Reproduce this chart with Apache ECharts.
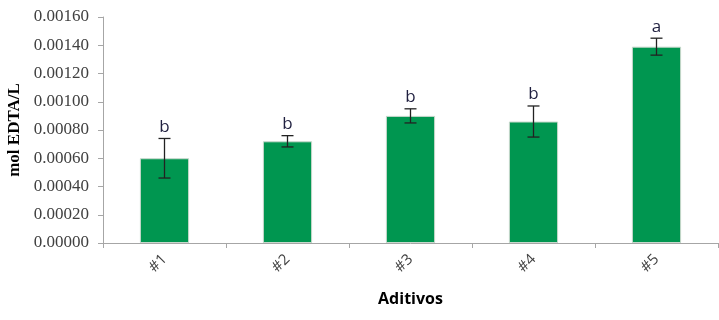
<!DOCTYPE html>
<html><head><meta charset="utf-8">
<script src="https://cdn.jsdelivr.net/npm/echarts@6/dist/echarts.min.js"></script>
<style>html,body{margin:0;padding:0;background:#fff}#c{width:719px;height:320px}</style>
</head><body><div id="c"></div>
<script>
const categories = ['#1', '#2', '#3', '#4', '#5'];
const means = [0.00060, 0.00072, 0.00090, 0.00086, 0.00139];
const errors = [0.00014, 0.00004, 0.00005, 0.00011, 0.00006];
const letters = ['b', 'b', 'b', 'b', 'a'];

const chart = echarts.init(document.getElementById('c'));
const errData = categories.map((c, i) => [i, means[i] - errors[i], means[i] + errors[i], letters[i]]);
chart.setOption({
  animation: false,
  grid: {left: 103, right: 1, top: 17, bottom: 77, outerBoundsMode: 'none', containLabel: false},
  xAxis: {
    type: 'category', data: categories,
    name: 'Aditivos', nameLocation: 'middle', nameGap: 48,
    nameTextStyle: {fontFamily: 'Open Sans', fontWeight: 'bold', fontSize: 16, color: '#000'},
    axisLine: {lineStyle: {color: '#a6a6a6'}},
    axisTick: {show: true, length: 5, lineStyle: {color: '#a6a6a6'}},
    axisLabel: {rotate: 45, fontFamily: 'Open Sans', fontSize: 15, color: '#404040', margin: 14}
  },
  yAxis: {
    type: 'value', min: 0, max: 0.0016, interval: 0.0002,
    name: 'mol EDTA/L', nameLocation: 'middle', nameGap: 80,
    nameTextStyle: {fontFamily: 'Liberation Serif', fontWeight: 'bold', fontSize: 17, color: '#000'},
    axisLine: {show: true, lineStyle: {color: '#a6a6a6'}},
    axisTick: {show: true, length: 5, lineStyle: {color: '#a6a6a6'}},
    splitLine: {show: false},
    axisLabel: {formatter: v => v.toFixed(5), fontFamily: 'Liberation Serif', fontSize: 17, color: '#404040', margin: 14}
  },
  series: [
    {type: 'bar', data: means, barWidth: '40%',
     itemStyle: {color: '#009650', borderColor: '#c8d8cc', borderWidth: 1}},
    {type: 'custom', data: errData, z: 10,
     renderItem: (params, api) => {
       const x = api.value(0);
       const lo = api.coord([x, api.value(1)]);
       const hi = api.coord([x, api.value(2)]);
       const w = 6;
       const st = {stroke: '#222', lineWidth: 1.3};
       return {type: 'group', children: [
         {type: 'line', shape: {x1: lo[0], y1: lo[1], x2: hi[0], y2: hi[1]}, style: st},
         {type: 'line', shape: {x1: lo[0]-w, y1: lo[1], x2: lo[0]+w, y2: lo[1]}, style: st},
         {type: 'line', shape: {x1: hi[0]-w, y1: hi[1], x2: hi[0]+w, y2: hi[1]}, style: st},
         {type: 'text', style: {x: hi[0], y: hi[1] - 3, text: letters[params.dataIndex], textAlign: 'center', textVerticalAlign: 'bottom',
           font: '17px "Open Sans"', fill: '#1f1f3f'}}
       ]};
     }}
  ]
});
</script></body></html>
